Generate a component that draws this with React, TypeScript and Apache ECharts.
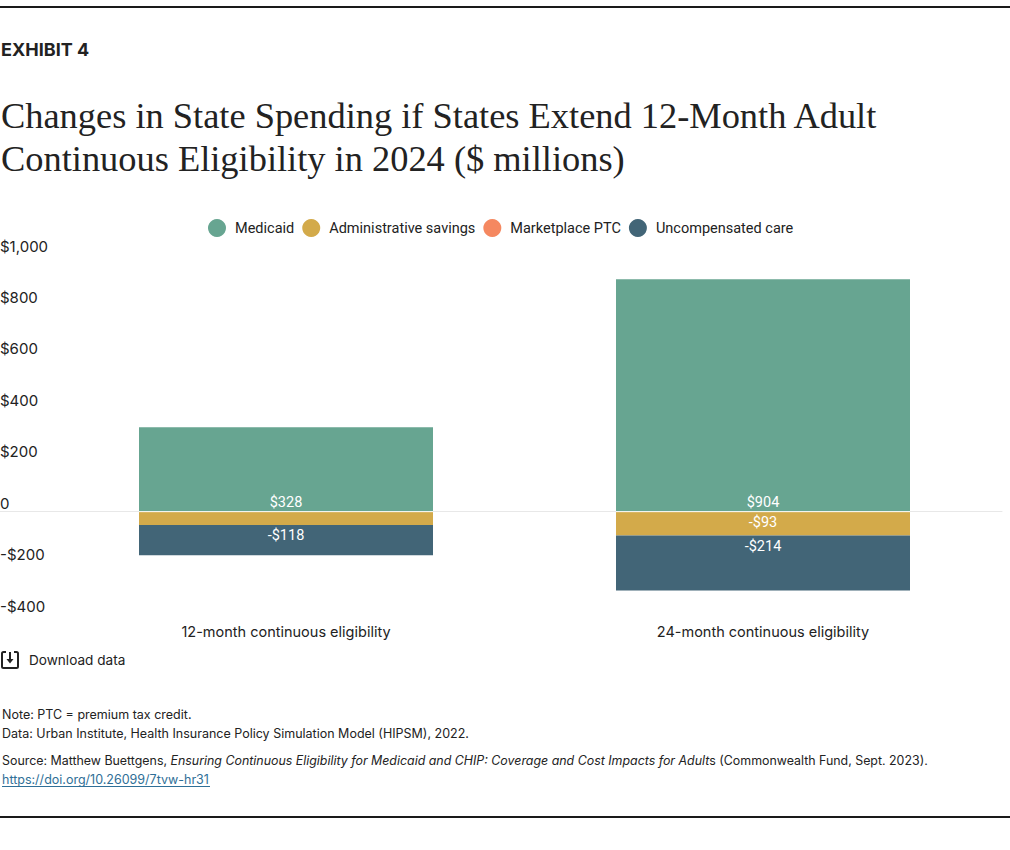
import React, { useEffect, useRef } from "react";
import * as echarts from "echarts";

const categories = ["12-month continuous eligibility", "24-month continuous eligibility"];
const medicaid = [328, 904];
const adminSavings = [-52, -93];
const marketplacePTC = [0, 0];
const uncompensated = [-118, -214];
const seriesNames = ["Medicaid", "Administrative savings", "Marketplace PTC", "Uncompensated care"];
const seriesColors = ["#67a591", "#d3aa4a", "#f58860", "#426577"];
const axisMin = -400;
const axisMax = 1000;
const axisStep = 200;
const labelThreshold = 60;
const barWidth = 294;

const INK = "#222222";
const SANS = "Inter, sans-serif";
const UI = "Roboto, sans-serif";
const SERIF = "Liberation Serif, serif";

echarts.graphic.registerShape(
  "downloadIcon",
  echarts.graphic.extendPath(
    "M5 1H2.5A1.5 1.5 0 0 0 1 2.5V15.5A1.5 1.5 0 0 0 2.5 17H15.5A1.5 1.5 0 0 0 17 15.5V2.5A1.5 1.5 0 0 0 15.5 1H13",
    {}
  )
);

function money(v: number): string {
  const abs = Math.abs(v).toLocaleString("en-US");
  return v < 0 ? `-$${abs}` : v === 0 ? "0" : `$${abs}`;
}

function makeSeries(i: number, values: number[]) {
  const positive = values[0] > 0;
  return {
    name: seriesNames[i],
    type: "bar",
    stack: "total",
    xAxisIndex: 0,
    yAxisIndex: 0,
    barWidth,
    data: values,
    itemStyle: { color: seriesColors[i] },
    label: {
      show: true,
      position: positive ? "insideBottom" : "insideTop",
      distance: positive ? 2 : 3,
      color: "#ffffff",
      fontFamily: UI,
      fontSize: 14.5,
      formatter: (p: any) => (Math.abs(p.value) < labelThreshold ? "" : money(p.value)),
    },
  };
}

export default function App() {
  const ref = useRef<HTMLDivElement>(null);
  useEffect(() => {
    document.body.style.margin = "0";
    const chart = echarts.init(ref.current!, undefined, { renderer: "svg" });
    chart.setOption({
      animation: false,
      backgroundColor: "#ffffff",
      legend: {
        left: 203,
        top: 214,
        icon: "circle",
        itemWidth: 18,
        itemHeight: 18,
        itemGap: 8,
        data: seriesNames,
        textStyle: { fontFamily: UI, fontSize: 14.5, color: INK, padding: [0, 0, 0, 4] },
      },
      grid: [
        { left: 47.5, right: 8.5, top: 254.5, height: 360 },
        { left: -2, right: 8, top: 254.5, height: 360, outerBoundsMode: "none" },
      ],
      xAxis: [
        {
          type: "category",
          gridIndex: 0,
          data: categories,
          axisLine: { show: false, onZero: false },
          axisTick: { show: false },
          axisLabel: { color: INK, fontFamily: SANS, fontSize: 14.5, margin: 9 },
        },
        {
          type: "value",
          gridIndex: 1,
          min: 0,
          max: 1,
          splitLine: { show: false },
          axisTick: { show: false },
          axisLabel: { show: false },
          axisLine: { show: true, onZero: true, lineStyle: { color: "#e8e8e8", width: 1 } },
        },
      ],
      yAxis: [
        {
          type: "value",
          gridIndex: 0,
          min: axisMin,
          max: axisMax,
          interval: axisStep,
          show: false,
        },
        {
          type: "value",
          gridIndex: 1,
          min: axisMin,
          max: axisMax,
          interval: axisStep,
          splitLine: { show: false },
          axisLine: { show: false },
          axisTick: { show: false },
          axisLabel: {
            inside: true,
            margin: 2,
            color: INK,
            fontFamily: SANS,
            fontSize: 15,
            verticalAlign: "bottom",
            padding: [0, 0, 1, 0],
            formatter: (v: number) => money(v),
          },
        },
      ],
      series: [
        makeSeries(0, medicaid),
        makeSeries(1, adminSavings),
        makeSeries(2, marketplacePTC),
        makeSeries(3, uncompensated),
        {
          type: "custom",
          xAxisIndex: 0,
          yAxisIndex: 0,
          z: 5,
          silent: true,
          data: categories.map((c) => [c, 0]),
          encode: { x: 0, y: 1 },
          renderItem: (_p: any, api: any) => {
            const pt = api.coord([api.value(0), 0]);
            return {
              type: "line",
              shape: { x1: pt[0] - barWidth / 2, y1: pt[1], x2: pt[0] + barWidth / 2, y2: pt[1] },
              style: { stroke: "#ffffff", lineWidth: 1 },
            };
          },
        },
      ],
      graphic: [
        { type: "rect", shape: { x: 0, y: 6, width: 1010, height: 2 }, style: { fill: "#1a1a1a" } },
        { type: "rect", shape: { x: 0, y: 816, width: 1010, height: 2 }, style: { fill: "#1a1a1a" } },
        {
          type: "text",
          x: 1,
          y: 49.5,
          style: { text: "EXHIBIT 4", fontFamily: SANS, fontWeight: 700, fontSize: 18, fill: INK, verticalAlign: "middle" },
        },
        {
          type: "text",
          x: 1,
          y: 116,
          style: {
            text: "Changes in State Spending if States Extend 12-Month Adult",
            fontFamily: SERIF,
            fontSize: 36.4,
            fill: INK,
            verticalAlign: "middle",
          },
        },
        {
          type: "text",
          x: 1,
          y: 159,
          style: {
            text: "Continuous Eligibility in 2024 ($ millions)",
            fontFamily: SERIF,
            fontSize: 36.4,
            fill: INK,
            verticalAlign: "middle",
          },
        },
        {
          type: "group",
          x: 1,
          y: 651,
          children: [
            { type: "downloadIcon", style: { fill: "none", stroke: INK, lineWidth: 2 } },
            { type: "line", shape: { x1: 9, y1: 1, x2: 9, y2: 9 }, style: { stroke: INK, lineWidth: 2 } },
            { type: "polygon", shape: { points: [[5.5, 8], [12.5, 8], [9, 12.5]] }, style: { fill: INK } },
          ],
        },
        {
          type: "text",
          x: 29,
          y: 659.5,
          style: { text: "Download data", fontFamily: SANS, fontSize: 13.6, fill: INK, verticalAlign: "middle" },
        },
        {
          type: "text",
          x: 2,
          y: 714.5,
          style: { text: "Note: PTC = premium tax credit.", fontFamily: SANS, fontSize: 12.5, fill: INK, verticalAlign: "middle" },
        },
        {
          type: "text",
          x: 2,
          y: 733,
          style: {
            text: "Data: Urban Institute, Health Insurance Policy Simulation Model (HIPSM), 2022.",
            fontFamily: SANS,
            fontSize: 12.5,
            fill: INK,
            verticalAlign: "middle",
          },
        },
        {
          type: "text",
          x: 2,
          y: 760,
          style: {
            text: "{a|Source: Matthew Buettgens, }{i|Ensuring Continuous Eligibility for Medicaid and CHIP: Coverage and Cost Impacts for Adult}{a|s (Commonwealth Fund, Sept. 2023).}",
            verticalAlign: "middle",
            rich: {
              a: { fontFamily: SANS, fontSize: 12.4, fill: INK, color: INK },
              i: { fontFamily: SANS, fontSize: 12.4, fontStyle: "italic", fill: INK, color: INK },
            },
          },
        },
        {
          type: "text",
          x: 2,
          y: 779,
          style: { text: "https://doi.org/10.26099/7tvw-hr31", fontFamily: SANS, fontSize: 12.5, fill: "#2f6f97", verticalAlign: "middle" },
        },
        { type: "line", shape: { x1: 2, y1: 786.5, x2: 210, y2: 786.5 }, style: { stroke: "#2f6f97", lineWidth: 1 } },
      ],
    });
    return () => chart.dispose();
  }, []);
  return <div ref={ref} style={{ width: 1010, height: 850, position: "absolute", left: 0, top: 0 }} />;
}
